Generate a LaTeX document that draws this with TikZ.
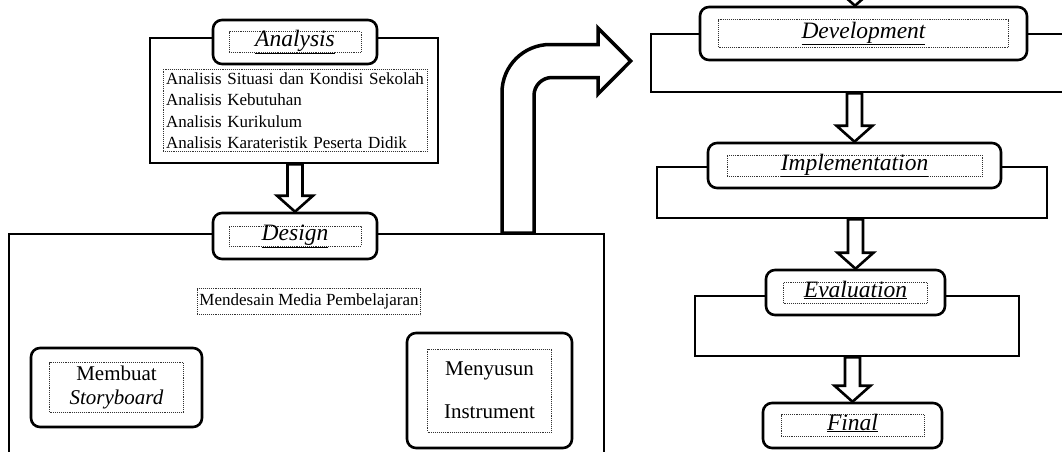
\documentclass[tikz,border=0pt]{standalone}
\usepackage{fontspec}
\setmainfont{Liberation Serif}
\usepackage{tikz}
\usetikzlibrary{positioning, calc}
\tikzstyle{phaseframe} = [rectangle, draw=black, line width=2.6pt]
\tikzstyle{stagebox} = [rectangle, rounded corners=9pt, draw=black, line width=2.6pt, fill=white]
\tikzstyle{dotbox} = [rectangle, draw=black!80, densely dotted, line width=0.9pt, inner sep=0pt]
\tikzstyle{headtext} = [dotbox, font=\fontsize{23.5}{26}\selectfont\itshape, text height=12pt, text depth=3pt]
\tikzstyle{blockline} = [draw=black, line width=2.6pt, fill=white, line join=miter]
\tikzstyle{bendarrow} = [draw=black, line width=3.5pt, fill=white, line join=miter]

\newcommand{\stagelabel}[1]{\underline{#1}}
\newcommand{\blockdown}[2]{%
  \path[blockline] let \p1=(#1), \p2=(#2) in
    ({\x2-7.5pt},\y1) -- ({\x2-7.5pt},{\y2+16pt}) -- ({\x2-18pt},{\y2+16pt}) -- (\x2,\y2)
    -- ({\x2+18pt},{\y2+16pt}) -- ({\x2+7.5pt},{\y2+16pt}) -- ({\x2+7.5pt},\y1) -- cycle;}

\begin{document}
\begin{tikzpicture}[x=1pt, y=-1pt]
\useasboundingbox (0,0) rectangle (1062,451);
\clip (0,0) rectangle (1062,451);

% Phase frames
\node (anaframe) [phaseframe, minimum width=288pt, minimum height=125pt] at (294,100.5) {};
\node (desframe) [phaseframe, line width=2pt, minimum width=595pt, minimum height=266pt] at (306.5,367) {};
\node (devframe) [phaseframe, minimum width=429pt, minimum height=58pt] at (865.5,63) {};
\node (impframe) [phaseframe, minimum width=390pt, minimum height=51pt] at (852,192.5) {};
\node (evaframe) [phaseframe, minimum width=324pt, minimum height=60pt] at (857,326) {};

% Stage boxes
\node (anabox) [stagebox, minimum width=164pt, minimum height=44pt] at (295,42) {};
\node (anatitle) [headtext, minimum width=132pt, minimum height=21pt] at (anabox) {\stagelabel{Analysis}};
\node (desbox) [stagebox, minimum width=164pt, minimum height=46pt] at (295,236) {};
\node (destitle) [headtext, minimum width=132pt, minimum height=20pt] at (desbox) {\stagelabel{Design}};
\node (devbox) [stagebox, minimum width=327pt, minimum height=53pt] at (863.5,33.5) {};
\node (devtitle) [headtext, minimum width=290pt, minimum height=28pt] at (devbox) {\stagelabel{Development}};
\node (impbox) [stagebox, minimum width=293pt, minimum height=45pt] at (854.5,165.5) {};
\node (imptitle) [headtext, minimum width=255pt, minimum height=21pt] at (impbox) {\stagelabel{Implementation}};
\node (evabox) [stagebox, minimum width=179pt, minimum height=45pt] at (855.5,292.5) {};
\node (evatitle) [headtext, minimum width=144pt, minimum height=21pt] at (evabox) {\stagelabel{Evaluation}};
\node (finbox) [stagebox, minimum width=179pt, minimum height=45pt] at (852.5,425.5) {};
\node (fintitle) [headtext, minimum width=143pt, minimum height=22pt] at (finbox) {\stagelabel{Final}};

% Analysis items
\node (analist) [dotbox, below=3.5pt of anabox, text width=258pt, inner sep=3pt, align=left, font=\fontsize{17}{21.5}\selectfont] {
Analisis Situasi dan Kondisi Sekolah\\
Analisis Kebutuhan\\
Analisis Kurikulum\\
Analisis Karateristik Peserta Didik
};

% Design items
\node (mediatext) [dotbox, below=28pt of desbox, xshift=14pt, inner sep=2pt, minimum height=26pt, font=\fontsize{17}{20}\selectfont] {Mendesain Media Pembelajaran};
\node (storybox) [stagebox, minimum width=171pt, minimum height=79pt] at (116.5,387.5) {};
\node (storytext) [dotbox, minimum width=134pt, minimum height=50pt, align=center, font=\fontsize{21}{24}\selectfont] at (storybox) {Membuat\\\textit{Storyboard}};
\node (instbox) [stagebox, minimum width=165pt, minimum height=115pt] at (489.5,390.5) {};
\node (insttext) [dotbox, minimum width=124pt, minimum height=83pt, align=center, font=\fontsize{21}{43}\selectfont] at (instbox) {Menyusun\\Instrument};

% Connections
\coordinate (devin) at (855,-40);
\blockdown{devin}{[xshift=-8.5pt]devbox.north}
\blockdown{anaframe.south}{desbox.north}
\blockdown{devframe.south}{impbox.north}
\blockdown{impframe.south}{evabox.north}
\blockdown{evaframe.south}{finbox.north}

\path[bendarrow] let \p1=(desframe.north), \p2=(devframe.west) in
  (502pt,\y1) -- (502pt,{\y2-29.5pt}) .. controls (502pt,{\y2-3pt}) and (523.5pt,{\y2+18.5pt}) .. (550pt,{\y2+18.5pt})
  -- (598pt,{\y2+18.5pt}) -- (598pt,{\y2+35pt}) -- ({\x2-19pt},{\y2+2pt}) -- (598pt,{\y2-31pt})
  -- (598pt,{\y2-14.5pt}) -- (552pt,{\y2-14.5pt}) .. controls (542pt,{\y2-14.5pt}) and (534pt,{\y2-22.5pt}) .. (534pt,{\y2-32.5pt})
  -- (534pt,\y1) -- cycle;

\end{tikzpicture}
\end{document}
